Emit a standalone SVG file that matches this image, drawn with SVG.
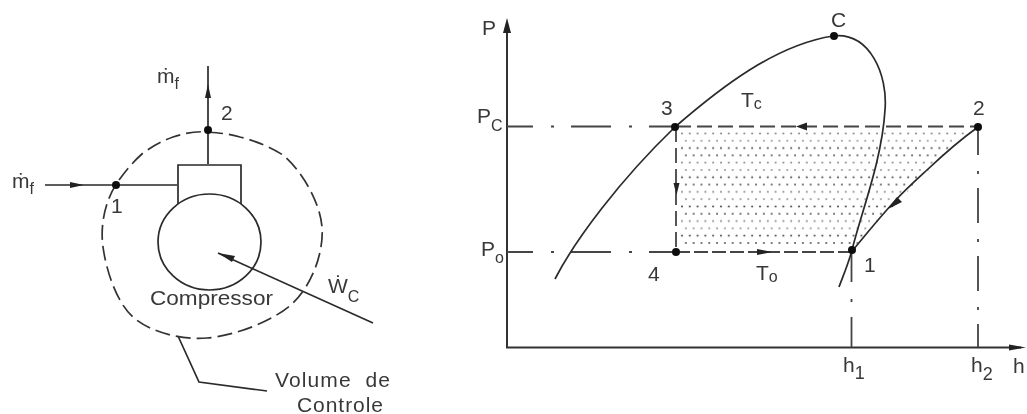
<svg xmlns="http://www.w3.org/2000/svg" width="1027" height="414" viewBox="0 0 1027 414">
<style>
text{font-family:"Liberation Sans","DejaVu Sans",sans-serif;font-size:21px;fill:#383838}
.s{font-size:16px}
.l{fill:none;stroke:#2a2a2a;stroke-width:1.7}
.a{fill:none;stroke:#333;stroke-width:2}
.d{fill:none;stroke:#444;stroke-width:1.8;stroke-dasharray:40 18 3 17;stroke-dashoffset:14}
.q{fill:none;stroke:#444;stroke-width:1.8;stroke-dasharray:15 6}
.v{fill:#111}
.h{fill:#222}
</style>
<defs>
<filter id="soft" x="0" y="0" width="1" height="1"><feGaussianBlur stdDeviation="0.45"/></filter>
<pattern id="dots" width="15.600" height="29.200" patternUnits="userSpaceOnUse" x="680" y="132">
<circle cx="2" cy="1.500" r="0.900" fill="#777"/><circle cx="9.800" cy="1.500" r="0.900" fill="#777"/>
<circle cx="5.900" cy="8.800" r="0.900" fill="#888"/><circle cx="13.700" cy="8.800" r="0.900" fill="#888"/>
<circle cx="2" cy="16.100" r="1" fill="#444"/><circle cx="9.800" cy="16.100" r="1" fill="#444"/>
<circle cx="5.900" cy="23.400" r="1" fill="#555"/><circle cx="13.700" cy="23.400" r="1" fill="#555"/>
</pattern>
</defs>
<g filter="url(#soft)">
<g id="connectors">
<path class="l" d="M45 185H177"/>
<path class="l" d="M208 164V66"/>
<path class="l" d="M218 253L373 323"/>
<path class="l" d="M178 336L199 382L267 391"/>
<path class="h" d="M70 182L84 185L70 188Z"/>
<path class="h" d="M208 84L205 98H211Z"/>
<path class="h" d="M218 253L235 256L232 262Z"/>
</g>
<g id="control-volume">
<path fill="none" stroke="#333" stroke-width="1.700" stroke-dasharray="15 6" d="M208 132C220 133 230 134 240 137C256 141 270 147 283 155C302 171 320 202 322 227C324 252 312 285 293 303C274 321 234 336 207 338C180 340 150 332 133 317C116 302 106 269 103 247C100 225 105 201 117 183C126 170 134 161 143 153C153 146 162 141 173 137C185 133 196 131 208 132Z"/>
</g>
<g id="compressor">
<path class="l" d="M178 204V165H241V204"/>
<ellipse class="l" cx="209.500" cy="242" rx="51.500" ry="48" fill="#fff"/>
<text x="150" y="305" textLength="123" lengthAdjust="spacingAndGlyphs">Compressor</text>
</g>
<g id="state-1-left"><circle class="v" cx="116" cy="185" r="4"/><text x="111" y="213">1</text></g>
<g id="state-2-left"><circle class="v" cx="208" cy="130" r="4"/><text x="221" y="120">2</text></g>
<g id="labels-left">
<text x="12" y="188">ṁ<tspan class="s" dy="6">f</tspan></text>
<text x="157" y="83">ṁ<tspan class="s" dy="6">f</tspan></text>
<text x="328" y="293">Ẇ<tspan class="s" dy="9">C</tspan></text>
<text x="275" y="387" textLength="115" xml:space="preserve">Volume  de</text>
<text x="297" y="412" textLength="86">Controle</text>
</g>
<g id="cycle-area">
<path fill="url(#dots)" d="M679 130H968L853 248H679Z"/>
</g>
<g id="axes">
<path class="a" d="M507 24V347.500H1021"/>
<path class="h" d="M507 18L503 33H511Z"/>
<path class="h" d="M1026 347.500L1009 344.500V350.500Z"/>
</g>
<g id="guides">
<path class="d" d="M507 126.500H676"/>
<path class="d" d="M507 252H676"/>
<path class="q" d="M676 126.500H978"/>
<path class="q" d="M676 252H852" style="stroke-dasharray:14 4"/>
<path class="q" d="M676 127V252"/>
<path class="d" d="M851.500 251V347" style="stroke-dasharray:31 17 3 15;stroke-dashoffset:0"/>
<path class="d" d="M978 127V347" style="stroke-dasharray:35 16 3 14;stroke-dashoffset:7"/>
</g>
<g id="saturation-dome">
<path class="l" d="M555 279C575 240 620 180 675 127C720 88 775 45 833 36C870 32 888 75 885 110C882 160 862 210 852 250C848 265 843 276 839 287"/>
<path class="l" d="M978 127C960 140 945 153 927 170C915 181 905 190 894 202C880 217 868 232 853 250"/>
<path class="h" d="M796 126.500L807 122.500V130.500Z"/>
<path class="h" d="M673.500 183H679.500L676.500 195Z"/>
<path class="h" d="M772 252L757 249V255Z"/>
<path class="h" d="M888 209L897 197L902 202Z"/>
</g>
<g id="state-c"><circle class="v" cx="834" cy="36" r="4"/><text x="831" y="27">C</text></g>
<g id="state-3"><circle class="v" cx="675" cy="127" r="4"/><text x="661" y="115">3</text></g>
<g id="state-2"><circle class="v" cx="978" cy="127" r="4"/><text x="973" y="115">2</text></g>
<g id="state-4"><circle class="v" cx="676" cy="252" r="4"/><text x="648" y="281">4</text></g>
<g id="state-1"><circle class="v" cx="852" cy="250" r="4"/><text x="864" y="272">1</text></g>
<g id="labels-right">
<text x="482" y="35">P</text>
<text x="477" y="123">P<tspan class="s" dy="8">C</tspan></text>
<text x="481" y="256">P<tspan class="s" dy="7">o</tspan></text>
<text x="741" y="107">T<tspan class="s" dy="2">c</tspan></text>
<text x="756" y="280">T<tspan class="s" dy="2">o</tspan></text>
<text x="843" y="372">h<tspan class="s" dy="7" style="font-size:18px">1</tspan></text>
<text x="971" y="372">h<tspan class="s" dy="8" style="font-size:18px">2</tspan></text>
<text x="1013" y="373">h</text>
</g>
</g>
</svg>
